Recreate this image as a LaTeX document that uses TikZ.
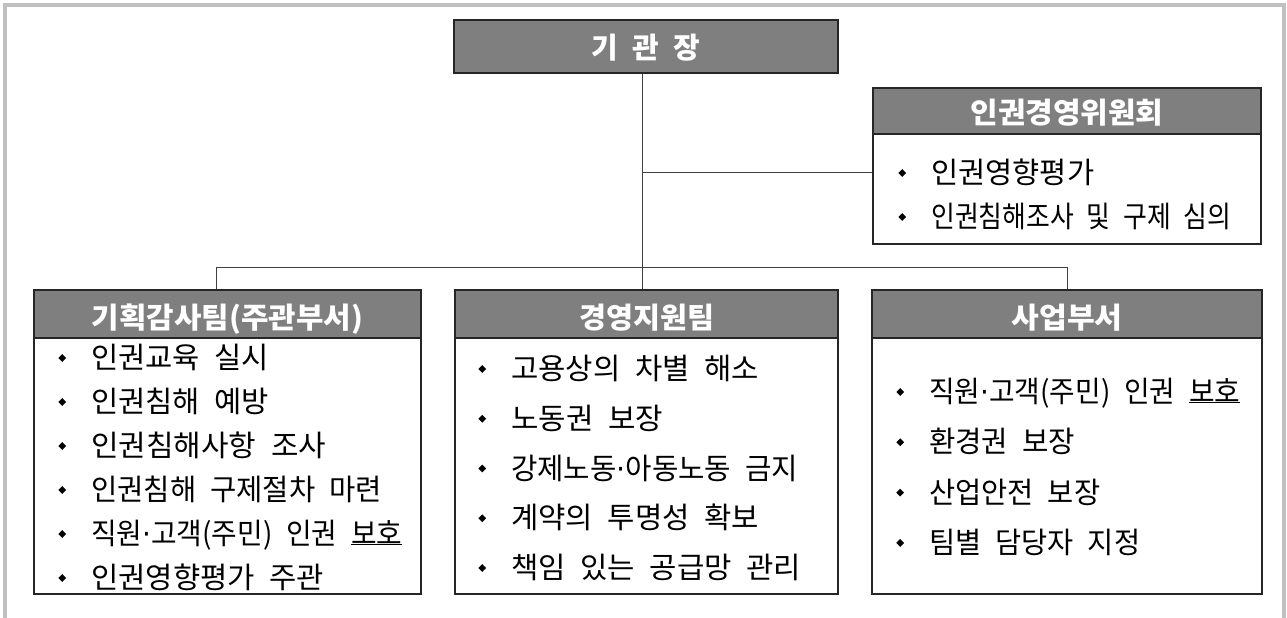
\documentclass[tikz,border=0pt]{standalone}
\usepackage{fontspec}
\usepackage{graphicx}
\setmainfont{Noto Sans CJK KR}[WordSpace=2.2]
\newfontfamily\dvfont{DejaVu Sans}
\definecolor{framegray}{RGB}{192,192,192}
\definecolor{headgray}{RGB}{127,127,127}
\newcommand\itemfont{\fontsize{29.5}{32}\selectfont}
\newcommand\headfont{\fontsize{29}{32}\selectfont\bfseries}
\newcommand\bul{\makebox[58pt][c]{\raisebox{6.6pt}{\rotatebox{45}{\rule{5.5pt}{5.5pt}}}}}
\newcommand\ulbh[1]{\setbox0\hbox{#1}\rlap{\rule[-0.8pt]{\wd0}{1pt}}\box0}
\newcommand\mdot{{\dvfont ·}}
\newcommand\fitw[2]{\resizebox{#1pt}{\height}{#2}}
\tikzset{
  frameline/.style={draw=framegray, line width=4pt},
  boxnode/.style={draw=black!85, line width=1.2pt, inner sep=0pt, fill=white},
  headnode/.style={draw=black!85, line width=1.2pt, inner sep=0pt, fill=headgray},
  headtxt/.style={anchor=base, inner sep=0pt, text=white, font=\headfont},
  itemtxt/.style={anchor=base west, inner sep=0pt, font=\itemfont},
  link/.style={draw=black!75, line width=1pt},
}
\begin{document}
\begin{tikzpicture}[x=1pt,y=-1pt]
\useasboundingbox (0,0) rectangle (1287,618);
% outer frame (open at bottom)
\draw[frameline] (4.5,618) -- (4.5,5.5) -- (1284,5.5) -- (1284,618);

% top box
\node[headnode, minimum width=384pt, minimum height=53pt] (top) at (646,46.5) {};
\node[headtxt] (toptxt) at (646,58) {\fitw{109}{기 관 장}};

% committee
\node[boxnode, minimum width=388pt, minimum height=156pt] (com) at (1067,166) {};
\node[headnode, minimum width=388pt, minimum height=46pt] (comh) at (1067,111) {};
\node[headtxt] (comt) at (1067,123) {\fitw{193}{인권경영위원회}};
\foreach \w/\t [count=\i] in {163/인권영향평가, 300/인권침해조사 및 구제 심의}
  \node[itemtxt] (com-\i) at (873,{183.5+44*(\i-1)}) {\bul\fitw{\w}{\t}};

% bottom boxes
\node[boxnode, minimum width=387pt, minimum height=304pt] (b1) at (227.5,442) {};
\node[headnode, minimum width=387pt, minimum height=48pt] (b1h) at (227.5,314) {};
\node[headtxt] (b1t) at (227.5,328) {\fitw{271}{기획감사팀(주관부서)}};
\foreach \w/\t [count=\i] in {178/인권교육 실시, 178/인권침해 예방, 235/인권침해사항 조사, 291/인권침해 구제절차 마련, 311/{직원\mdot 고객(주민) 인권 \ulbh{보호}}, 233/인권영향평가 주관}
  \node[itemtxt] (b1-\i) at (33,{368.5+44*(\i-1)}) {\bul\fitw{\w}{\t}};

\node[boxnode, minimum width=383pt, minimum height=304pt] (b2) at (646.5,442) {};
\node[headnode, minimum width=383pt, minimum height=48pt] (b2h) at (646.5,314) {};
\node[headtxt] (b2t) at (646.5,328) {\fitw{135}{경영지원팀}};
\foreach \w/\t [count=\i] in {248/고용상의 차별 해소, 152/노동권 보장, 287/{강제노동\mdot 아동노동 금지}, 248/계약의 투명성 확보, 290/책임 있는 공급망 관리}
  \node[itemtxt] (b2-\i) at (453,{379.5+49.75*(\i-1)}) {\bul\fitw{\w}{\t}};

\node[boxnode, minimum width=390pt, minimum height=304pt] (b3) at (1067,442) {};
\node[headnode, minimum width=390pt, minimum height=48pt] (b3h) at (1067,314) {};
\node[headtxt] (b3t) at (1067,328) {\fitw{111}{사업부서}};
\foreach \w/\t [count=\i] in {311/{직원\mdot 고객(주민) 인권 \ulbh{보호}}, 146/환경권 보장, 171/산업안전 보장, 211/팀별 담당자 지정}
  \node[itemtxt] (b3-\i) at (871,{402.5+50.3*(\i-1)}) {\bul\fitw{\w}{\t}};

% connectors
\coordinate (jl) at (216,267);
\coordinate (jm) at (642,267);
\coordinate (jr) at (1067,267);
\coordinate (jc) at (642,172);
\draw[link] (top.south -| jm) -- (jm);
\draw[link] (jc) -- (com.west |- jc);
\draw[link] (jl) -- (jr);
\draw[link] (jl) -- (jl |- b1h.north);
\draw[link] (jm) -- (jm |- b2h.north);
\draw[link] (jr) -- (jr |- b3h.north);
\end{tikzpicture}
\end{document}
